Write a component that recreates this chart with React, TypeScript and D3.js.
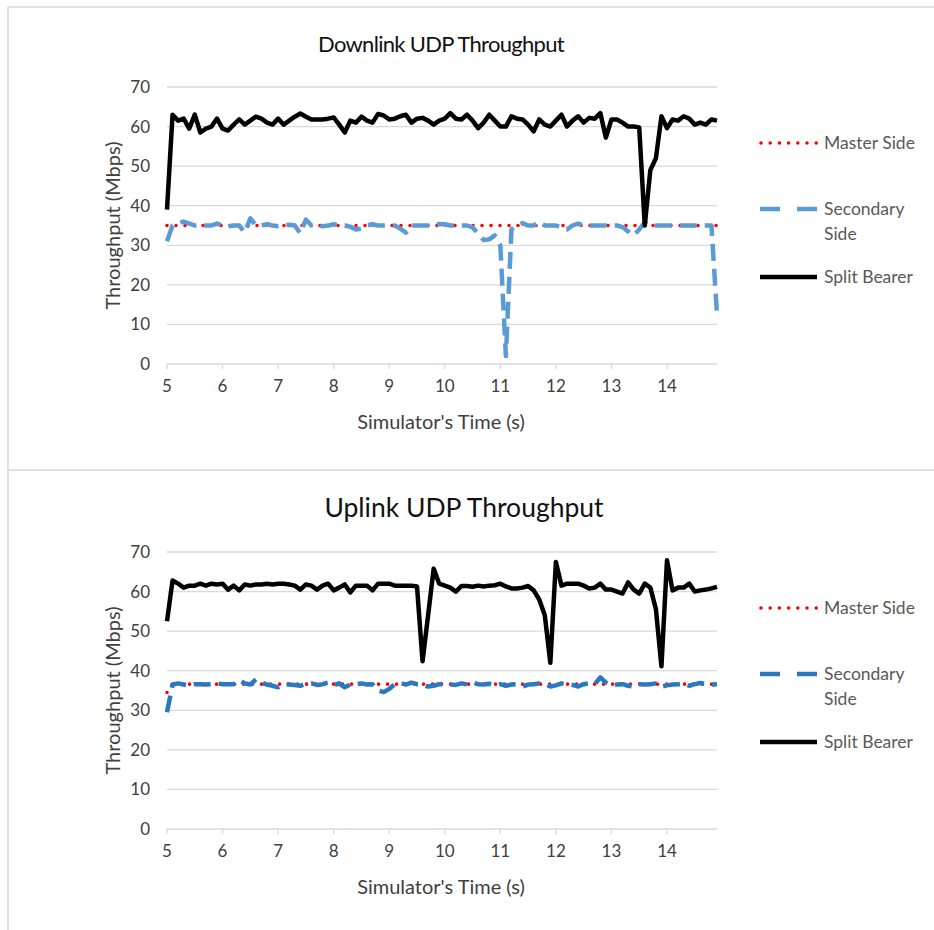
import React from "react";
import * as d3 from "d3";

// Sample times (s): 100 samples, 0.1 s apart, starting at 5 s
const TIME: number[] = d3.range(100).map((i) => +(5 + i / 10).toFixed(1));
const TIME_TICKS = [5, 6, 7, 8, 9, 10, 11, 12, 13, 14];
const Y_TICKS = [0, 10, 20, 30, 40, 50, 60, 70];

// Downlink throughput (Mbps)
const DL_MASTER = [
  35, 35, 35, 35, 35, 35, 35, 35, 35, 35, 35, 35, 35, 35, 35, 35, 35, 35, 35, 35,
  35, 35, 35, 35, 35, 35, 35, 35, 35, 35, 35, 35, 35, 35, 35, 35, 35, 35, 35, 35,
  35, 35, 35, 35, 35, 35, 35, 35, 35, 35, 35, 35, 35, 35, 35, 35, 35, 35, 35, 35,
  35, 35, 35, 35, 35, 35, 35, 35, 35, 35, 35, 35, 35, 35, 35, 35, 35, 35, 35, 35,
  35, 35, 35, 35, 35, 35, 35, 35, 35, 35, 35, 35, 35, 35, 35, 35, 35, 35, 35, 35,
];
const DL_SECONDARY = [
  31, 35, 35.5, 36, 35.5, 35, 35.2, 35, 35, 35.5, 35, 34.8, 35, 35, 33.2, 36.8, 35, 35, 35.3, 35,
  34.8, 35, 35.2, 35, 33, 36.5, 35, 35.2, 34.8, 35, 35.3, 35, 35, 34.7, 34, 34.2, 35, 35.3, 35, 35,
  35, 35, 34.2, 33.2, 35, 35, 35, 35, 35, 35.4, 35.3, 35, 35, 35, 35, 34.5, 33, 31.3, 31.5, 32.5,
  30, 2, 34, 35, 35.6, 35, 35, 36, 35, 35, 35, 34.5, 34, 35, 35.5, 35, 35, 35, 35, 35,
  35, 35, 34.6, 33.5, 32.5, 34, 35.8, 35, 35, 35, 35, 35, 35, 35, 35, 35, 35, 35, 35, 12.5,
];
const DL_SPLIT = [
  39, 63, 61.5, 62, 59.5, 63, 58.5, 59.5, 60, 62, 59.5, 59, 60.5, 61.8, 60.5, 61.5, 62.5, 62, 61, 60.5,
  62, 60.5, 61.5, 62.5, 63.3, 62.5, 61.8, 61.8, 61.8, 62, 62.3, 60.5, 58.5, 61.5, 61, 62.5, 61.5, 61, 63.2, 62.8,
  61.8, 62, 62.6, 63, 61, 62, 62.2, 61.5, 60.5, 61.5, 62, 63.4, 62, 61.8, 63, 61.5, 59.6, 61, 63, 61.5,
  60, 60, 62.6, 62, 61.8, 60.5, 58.8, 61.8, 60.5, 60, 61.5, 63, 60, 61.5, 62.6, 61, 62.2, 62, 63.4, 57.2,
  61.8, 61.8, 61, 60, 60, 59.8, 35, 49, 52, 62.6, 59.6, 61.8, 61.5, 62.6, 62, 60.5, 61, 60.5, 61.8, 61.5,
];

// Uplink throughput (Mbps)
const UL_MASTER = [
  34.5, 36.6, 36.6, 36.6, 36.6, 36.6, 36.6, 36.6, 36.6, 36.6, 36.6, 36.6, 36.6, 36.6, 36.6, 36.6, 36.6, 36.6, 36.6, 36.6,
  36.6, 36.6, 36.6, 36.6, 36.6, 36.6, 36.6, 36.6, 36.6, 36.6, 36.6, 36.6, 36.6, 36.6, 36.6, 36.6, 36.6, 36.6, 36.6, 36.6,
  36.6, 36.6, 36.6, 36.6, 36.6, 36.6, 36.6, 36.6, 36.6, 36.6, 36.6, 36.6, 36.6, 36.6, 36.6, 36.6, 36.6, 36.6, 36.6, 36.6,
  36.6, 36.6, 36.6, 36.6, 36.6, 36.6, 36.6, 36.6, 36.6, 36.6, 36.6, 36.6, 36.6, 36.6, 36.6, 36.6, 36.6, 36.6, 36.6, 36.6,
  36.6, 36.6, 36.6, 36.6, 36.6, 36.6, 36.6, 36.6, 36.6, 36.6, 36.6, 36.6, 36.6, 36.6, 36.6, 36.6, 36.6, 36.6, 36.6, 36.6,
];
const UL_SECONDARY = [
  29.5, 36.5, 36.8, 36.5, 36.2, 36.6, 36.6, 36.5, 36.6, 36.8, 36.6, 36.6, 36.6, 37.7, 36.8, 36.5, 37.8, 37, 36.5, 36.2,
  35.8, 36.6, 36.5, 36.4, 36.2, 36.6, 36.8, 36.4, 36.6, 37, 36.3, 36.8, 35.8, 36.5, 36.6, 36.8, 36.5, 36.6, 35, 34.6,
  35.4, 36.6, 36.9, 36.5, 37, 36.6, 36.5, 36, 36.2, 36.6, 36.6, 36.5, 36.4, 36.8, 36.5, 37, 36.6, 36.5, 36.7, 36.3,
  36.6, 36.2, 36.5, 36.6, 36, 36.5, 36.6, 36.8, 36.6, 36, 36.3, 36.8, 36.6, 36.4, 36, 36.6, 36.8, 36.6, 38.3, 37,
  36.3, 36.5, 36.6, 36.2, 36, 36.6, 36.5, 36.6, 36.8, 36, 36.3, 36.5, 36.6, 36.8, 36.2, 36.6, 36.9, 36.6, 36.5, 36.6,
];
const UL_SPLIT = [
  52.5, 62.8, 62, 61, 61.5, 61.5, 62, 61.5, 62, 61.8, 62, 60.5, 61.5, 60.3, 61.8, 61.5, 61.8, 61.8, 62, 61.8,
  62, 62, 61.8, 61.5, 60.5, 61.8, 61.5, 60.5, 61.5, 62, 60.3, 61, 61.8, 59.8, 61.5, 61.5, 61.5, 60.3, 62, 62,
  62, 61.5, 61.5, 61.5, 61.5, 61.3, 42.4, 54, 65.8, 62, 61.5, 61, 60, 61.4, 61.4, 61.2, 61.5, 61.3, 61.5, 61.6,
  62, 61.3, 60.8, 60.8, 61, 61.4, 60.3, 58, 54, 42, 67.5, 61.5, 62, 62, 62, 61.5, 60.8, 61, 62, 60.5,
  60.5, 60, 59.5, 62.3, 60.5, 59.5, 62, 61, 55.6, 41.1, 67.9, 60.3, 61, 61, 62, 60, 60.3, 60.5, 60.8, 61.2,
];

const FONT = "Lato, 'Open Sans', sans-serif";
const GRID = "#d9d9d9";
const LABEL = "#404040";

type PanelProps = {
  dy: number;
  title: string;
  titleX: number;
  titleSize: number;
  titleSpacing: number;
  master: number[];
  secondary: number[];
  split: number[];
  secondaryColor: string;
};

function Panel({ dy, title, titleX, titleSize, titleSpacing, master, secondary, split, secondaryColor }: PanelProps) {
  const x = d3.scaleLinear().domain([5, 14.9]).range([167, 717]);
  const y = d3.scaleLinear().domain([0, 70]).range([364, 87]);
  const line = d3
    .line<number>()
    .x((_, i) => x(TIME[i]))
    .y((d) => y(d));

  return (
    <g transform={`translate(0,${dy})`}>
      <text
        x={titleX}
        y={52}
        textAnchor="middle"
        fontSize={titleSize}
        letterSpacing={titleSpacing}
        fill="#111"
        fontFamily={FONT}
      >
        {title}
      </text>

      {/* horizontal gridlines and value labels */}
      {Y_TICKS.map((t) => (
        <g key={t}>
          <line x1={x(5)} x2={x(14.9)} y1={y(t)} y2={y(t)} stroke={GRID} strokeWidth={1.3} />
          <text x={150} y={y(t)} dy="0.35em" textAnchor="end" fontSize={17} fill={LABEL} fontFamily={FONT}>
            {t}
          </text>
        </g>
      ))}

      {/* time axis ticks and labels */}
      {TIME_TICKS.map((t) => (
        <g key={t}>
          <line x1={x(t)} x2={x(t)} y1={y(0)} y2={y(0) + 5} stroke={GRID} strokeWidth={1.3} />
          <text x={x(t)} y={y(0) + 28} textAnchor="middle" fontSize={17} fill={LABEL} fontFamily={FONT}>
            {t}
          </text>
        </g>
      ))}

      <text x={441} y={429} textAnchor="middle" fontSize={20} fill={LABEL} fontFamily={FONT}>
        Simulator's Time (s)
      </text>
      <text
        transform={`translate(120,${(y(0) + y(70)) / 2}) rotate(-90)`}
        textAnchor="middle"
        fontSize={20}
        fill={LABEL}
        fontFamily={FONT}
      >
        Throughput (Mbps)
      </text>

      {/* series */}
      <path d={line(master) ?? ""} fill="none" stroke="#ff0000" strokeWidth={3.6} strokeDasharray="0 9" strokeLinecap="round" />
      <path
        d={line(secondary) ?? ""}
        fill="none"
        stroke={secondaryColor}
        strokeWidth={4.5}
        strokeDasharray="17 8"
        strokeLinejoin="round"
      />
      <path d={line(split) ?? ""} fill="none" stroke="#000" strokeWidth={4.5} strokeLinejoin="round" />

      {/* legend */}
      <g fontFamily={FONT} fontSize={17.5} fill="#595959">
        <line x1={761} x2={817} y1={143} y2={143} stroke="#ff0000" strokeWidth={3.6} strokeDasharray="0 9.2" strokeLinecap="round" />
        <text x={824} y={143} dy="0.35em">Master Side</text>
        <line x1={760} x2={817} y1={209} y2={209} stroke={secondaryColor} strokeWidth={4.5} strokeDasharray="20 17" />
        <text x={824} y={209} dy="0.35em">Secondary</text>
        <text x={824} y={234} dy="0.35em">Side</text>
        <line x1={760} x2={817} y1={277} y2={277} stroke="#000" strokeWidth={4.5} />
        <text x={824} y={277} dy="0.35em">Split Bearer</text>
      </g>
    </g>
  );
}

export default function App() {
  return (
    <svg
      width={934}
      height={930}
      style={{ position: "absolute", left: 0, top: 0, background: "#fff" }}
    >
      <rect x={0} y={0} width={934} height={930} fill="#fff" />
      {/* chart frames */}
      <line x1={8} x2={934} y1={7} y2={7} stroke={GRID} strokeWidth={1.5} />
      <line x1={8} x2={8} y1={7} y2={930} stroke={GRID} strokeWidth={1.5} />
      <line x1={8} x2={934} y1={470} y2={470} stroke={GRID} strokeWidth={1.5} />

      <Panel
        dy={0}
        title="Downlink UDP Throughput"
        titleX={441}
        titleSize={22}
        titleSpacing={-0.7}
        master={DL_MASTER}
        secondary={DL_SECONDARY}
        split={DL_SPLIT}
        secondaryColor="#5b9bd5"
      />
      <Panel
        dy={465}
        title="Uplink UDP Throughput"
        titleX={464}
        titleSize={26.5}
        titleSpacing={0}
        master={UL_MASTER}
        secondary={UL_SECONDARY}
        split={UL_SPLIT}
        secondaryColor="#2a78c2"
      />
    </svg>
  );
}
